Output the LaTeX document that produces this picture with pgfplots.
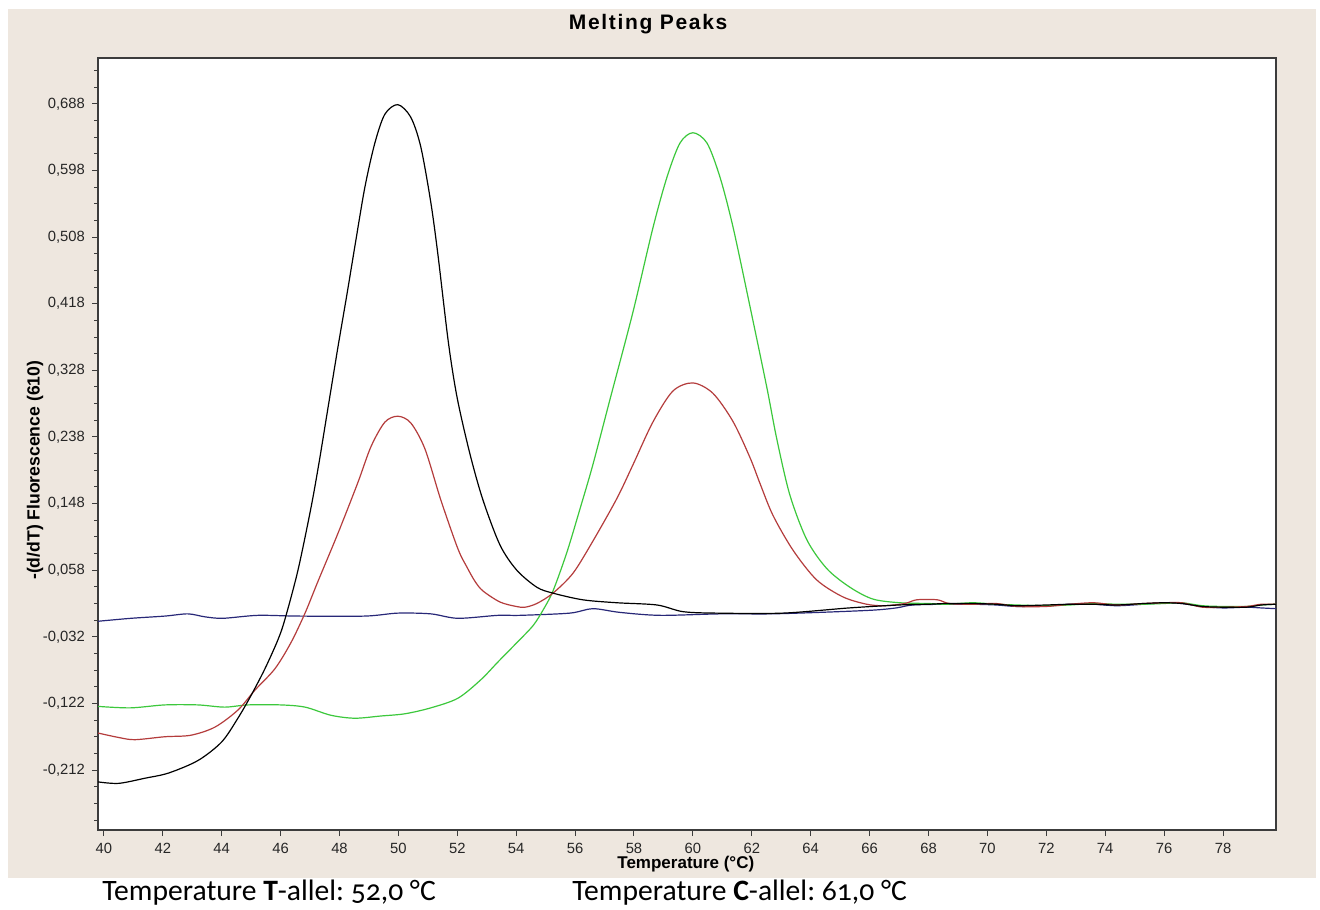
\documentclass[border=0pt]{standalone}
\usepackage{fontspec}
\setmainfont{Liberation Sans}
\newfontfamily\titlefont[LetterSpace=8]{Liberation Sans}
\newfontfamily\notefont[Numbers=OldStyle]{Carlito}
\usepackage{pgfplots}
\pgfplotsset{compat=1.18}
\definecolor{panel}{RGB}{238,231,223}
\definecolor{cred}{RGB}{180,60,60}
\definecolor{cgreen}{RGB}{60,200,60}
\definecolor{cblue}{RGB}{40,40,120}
\definecolor{axgray}{RGB}{60,60,60}
\frenchspacing
\begin{document}
\begin{tikzpicture}
\path[use as bounding box] (0,0) rectangle (660pt,454.5pt);
\fill[white] (0,0) rectangle (660pt,454.5pt);
\fill[panel] (4pt,15.5pt) rectangle (658pt,450pt);
\begin{axis}[
  at={(49pt,39.5pt)}, anchor=south west,
  width=589pt, height=386pt, scale only axis,
  xmin=39.8, xmax=79.8, ymin=-0.293, ymax=0.750,
  axis background/.style={fill=white},
  xtick={40,42,...,78},
  ytick={-0.212,-0.122,-0.032,0.058,0.148,0.238,0.328,0.418,0.508,0.598,0.688},
  yticklabels={{-0,212},{-0,122},{-0,032},{0,058},{0,148},{0,238},{0,328},{0,418},{0,508},{0,598},{0,688}},
  minor ytick={-0.2795,-0.257,-0.2345,-0.1895,-0.167,-0.1445,-0.0995,-0.077,-0.0545,-0.0095,0.013,0.0355,0.0805,0.103,0.1255,0.1705,0.193,0.2155,0.2605,0.283,0.3055,0.3505,0.373,0.3955,0.4405,0.463,0.4855,0.5305,0.553,0.5755,0.6205,0.643,0.6655,0.7105,0.733},
  /pgf/number format/assume math mode=true,
  tick align=outside,
  xtick pos=bottom, ytick pos=left,
  major tick length=3pt, minor tick length=2pt,
  tick style={axgray, line width=0.5pt},
  axis line style={axgray, line width=1pt},
  ticklabel style={font=\fontsize{7.4}{8.5}\selectfont, text=black!85},
  title={Melting Peaks},
  title style={font=\titlefont\bfseries\fontsize{10.5}{12}\selectfont, at={(axis description cs:0.467,1.0285)}, anchor=center},
  xlabel={Temperature (°C)},
  xlabel style={font=\bfseries\fontsize{8.5}{10}\selectfont, at={(axis description cs:0.499,-0.0445)}, anchor=center},
  ylabel={-(d/dT) Fluorescence (610)},
  ylabel style={font=\bfseries\fontsize{8.8}{10}\selectfont, at={(axis description cs:-0.0535,0.466)}, anchor=center},
  every axis plot/.append style={line width=0.6pt, smooth, tension=0.5},
]
% blue
\addplot[cblue] table {
x y
39.8 -0.011
40.92 -0.007
42.07 -0.004
42.85 -0.001
43.43 -0.005
44.04 -0.007
45.23 -0.003
46.59 -0.004
48.86 -0.004
49.98 0.000
51.1 -0.001
52.02 -0.007
53.38 -0.003
54.13 -0.003
55.82 0.000
56.6 0.006
57.52 0.001
58.88 -0.003
60.92 -0.001
62.61 -0.001
64.3 0.001
66.1 0.004
66.9 0.007
67.47 0.011
68.6 0.012
69.5 0.012
70.3 0.011
71.0 0.009
72.0 0.010
72.8 0.012
73.6 0.012
74.4 0.010
75.3 0.012
76.0 0.014
76.6 0.013
77.3 0.009
78.0 0.007
78.8 0.008
79.3 0.007
79.8 0.006
};
% green
\addplot[cgreen] table {
x y
39.8 -0.126
40.9 -0.128
42.07 -0.124
43.19 -0.124
44.1 -0.127
44.89 -0.124
46.0 -0.124
46.83 -0.127
47.71 -0.138
48.52 -0.142
49.4 -0.139
50.22 -0.136
51.1 -0.128
52.02 -0.115
52.8 -0.090
53.38 -0.066
54.02 -0.040
54.57 -0.017
54.91 0.004
55.25 0.030
55.72 0.082
56.16 0.140
56.6 0.200
57.18 0.288
57.96 0.406
58.64 0.520
59.12 0.589
59.56 0.635
60.0 0.649
60.48 0.635
60.92 0.589
61.36 0.522
61.94 0.414
62.51 0.305
62.85 0.235
63.29 0.160
63.87 0.099
64.55 0.060
65.33 0.035
66.11 0.019
67.03 0.014
68.0 0.013
68.6 0.012
69.5 0.014
70.3 0.012
71.0 0.011
72.0 0.010
72.8 0.011
73.6 0.013
74.4 0.012
75.3 0.012
76.0 0.013
76.6 0.014
77.3 0.010
78.0 0.009
78.8 0.009
79.3 0.011
79.8 0.012
};
% red
\addplot[cred] table {
x y
39.8 -0.162
40.5 -0.168
41.05 -0.171
42.07 -0.167
42.95 -0.165
43.77 -0.154
44.55 -0.131
45.13 -0.104
45.81 -0.075
46.35 -0.040
46.83 0.000
47.27 0.043
47.95 0.108
48.62 0.176
49.07 0.225
49.54 0.258
49.98 0.266
50.42 0.257
50.9 0.222
51.44 0.153
52.02 0.087
52.33 0.062
52.6 0.043
52.87 0.030
53.45 0.015
54.0 0.009
54.3 0.008
54.7 0.013
55.25 0.027
55.93 0.054
56.6 0.097
57.42 0.155
57.96 0.200
58.64 0.258
59.32 0.300
60.0 0.311
60.68 0.297
61.36 0.259
61.94 0.210
62.28 0.175
62.72 0.132
63.4 0.085
64.2 0.045
65.09 0.022
65.9 0.012
66.5 0.010
67.2 0.013
67.6 0.018
68.3 0.018
68.7 0.013
69.5 0.012
70.3 0.013
71.0 0.009
72.0 0.009
72.8 0.012
73.6 0.014
74.4 0.011
75.3 0.013
76.0 0.014
76.6 0.014
77.3 0.008
78.0 0.008
78.8 0.009
79.3 0.012
79.8 0.012
};
% black
\addplot[black] table {
x y
39.8 -0.228
40.5 -0.230
41.4 -0.223
42.2 -0.216
43.2 -0.199
44.0 -0.174
44.55 -0.142
45.0 -0.111
45.47 -0.075
45.91 -0.036
46.15 -0.008
46.59 0.058
47.03 0.142
47.3 0.202
47.6 0.275
47.95 0.360
48.25 0.430
48.52 0.495
48.86 0.575
49.2 0.635
49.54 0.674
49.98 0.687
50.42 0.670
50.76 0.630
51.1 0.555
51.34 0.485
51.7 0.365
52.0 0.290
52.43 0.215
52.87 0.153
53.45 0.092
54.02 0.058
54.7 0.035
55.25 0.027
56.26 0.018
57.42 0.014
58.78 0.011
59.66 0.002
60.8 0.000
63.06 0.000
65.3 0.007
67.0 0.011
68.0 0.012
68.6 0.013
69.5 0.013
70.3 0.012
71.0 0.010
72.0 0.011
72.8 0.012
73.6 0.012
74.4 0.011
75.3 0.013
76.0 0.014
76.6 0.013
77.3 0.009
78.0 0.008
78.8 0.008
79.3 0.011
79.8 0.012
};
\end{axis}
\node[anchor=base west, inner sep=0pt, font=\notefont\fontsize{14.8}{17}\selectfont] at (51pt,4.5pt) {Temperature \textbf{T}-allel: 52,0 °C};
\node[anchor=base west, inner sep=0pt, font=\notefont\fontsize{14.8}{17}\selectfont] at (286pt,4.5pt) {Temperature \textbf{C}-allel: 61,0 °C};
\end{tikzpicture}
\end{document}
